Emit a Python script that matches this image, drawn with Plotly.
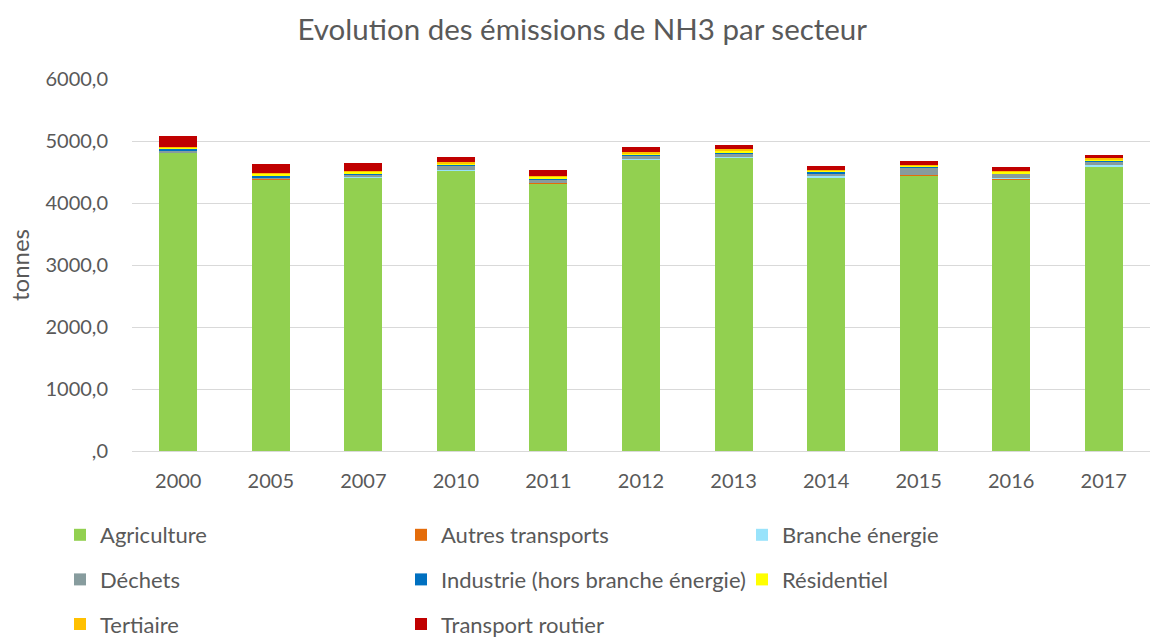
import plotly.graph_objects as go

years = ["2000", "2005", "2007", "2010", "2011", "2012", "2013", "2014", "2015", "2016", "2017"]

agriculture = [4810, 4383, 4408, 4520, 4318, 4700, 4730, 4408, 4447, 4383, 4585]
autres_transports = [5, 5, 5, 5, 5, 5, 5, 5, 5, 5, 5]
branche_energie = [5, 5, 5, 10, 5, 5, 15, 20, 5, 10, 20]
dechets = [30, 25, 40, 70, 55, 50, 55, 50, 110, 70, 60]
industrie = [25, 30, 25, 15, 20, 15, 15, 20, 15, 10, 10]
residentiel = [25, 30, 20, 25, 20, 25, 30, 25, 25, 25, 25]
tertiaire = [10, 10, 10, 15, 10, 20, 15, 10, 10, 10, 15]
transport_routier = [165, 139, 130, 90, 92, 80, 75, 65, 60, 60, 60]

series = [
    ("Agriculture", agriculture, "#92D050"),
    ("Autres transports", autres_transports, "#E46C0A"),
    ("Branche énergie", branche_energie, "#99E3FB"),
    ("Déchets", dechets, "#879C9E"),
    ("Industrie (hors branche énergie)", industrie, "#0070C0"),
    ("Résidentiel", residentiel, "#FFFF00"),
    ("Tertiaire", tertiaire, "#FFC000"),
    ("Transport routier", transport_routier, "#C00000"),
]

y_ticks = [0, 1000, 2000, 3000, 4000, 5000, 6000]
y_tick_labels = [",0", "1000,0", "2000,0", "3000,0", "4000,0", "5000,0", "6000,0"]

FONT = "Lato, Open Sans, sans-serif"
TXT = "#595959"

fig = go.Figure()
# legend laid out row-wise in the reference (3 per row) -> column index = i % 3
legend_names = ["legend", "legend2", "legend3"]
for i, (name, vals, col) in enumerate(series):
    fig.add_trace(go.Bar(
        name=name, x=years, y=vals, marker=dict(color=col, line=dict(width=0)),
        legend=legend_names[i % 3], legendgroup=name,
    ))

legend_common = dict(
    orientation="v", xref="container", yref="container",
    xanchor="left", yanchor="top",
    font=dict(family=FONT, size=22, color=TXT),
    bgcolor="rgba(0,0,0,0)", itemclick=False,
    traceorder="grouped", tracegroupgap=13,
)

LEG_TOP = 1 - 514 / 637

fig.update_layout(
    width=1153, height=637,
    margin=dict(l=132, r=3, t=79, b=186, autoexpand=False),
    paper_bgcolor="white", plot_bgcolor="white",
    barmode="stack", bargap=0.59,
    title=dict(text="Evolution des émissions de NH3 par secteur",
               x=0.505, xref="container", xanchor="center",
               y=1 - 30 / 637, yref="container", yanchor="middle",
               font=dict(family=FONT, size=29.5, color=TXT)),
    font=dict(family=FONT, size=20, color=TXT),
    xaxis=dict(type="category", showgrid=False, showline=False, ticks="",
               ticklabelstandoff=16,
               tickfont=dict(family=FONT, size=20, color=TXT)),
    yaxis=dict(range=[0, 6000], tickvals=y_ticks, ticktext=y_tick_labels,
               showgrid=True, gridcolor="#D9D9D9", gridwidth=1,
               zeroline=True, zerolinecolor="#D9D9D9", zerolinewidth=1,
               showline=False, ticks="", ticklabelstandoff=23,
               tickfont=dict(family=FONT, size=20, color=TXT)),
    annotations=[dict(text="tonnes", textangle=-90, showarrow=False,
                      xref="paper", yref="paper", x=-(132 - 19) / 1018, y=(451 - 265) / 372,
                      xanchor="center", yanchor="middle",
                      font=dict(family=FONT, size=24, color=TXT))],
    legend=dict(x=60 / 1153, y=LEG_TOP, **legend_common),
    legend2=dict(x=401 / 1153, y=LEG_TOP, **legend_common),
    legend3=dict(x=742 / 1153, y=LEG_TOP, **legend_common),
    showlegend=True,
)

fig.write_html("out.html", config={"displayModeBar": False},
               post_script="document.body.style.margin='0';")
